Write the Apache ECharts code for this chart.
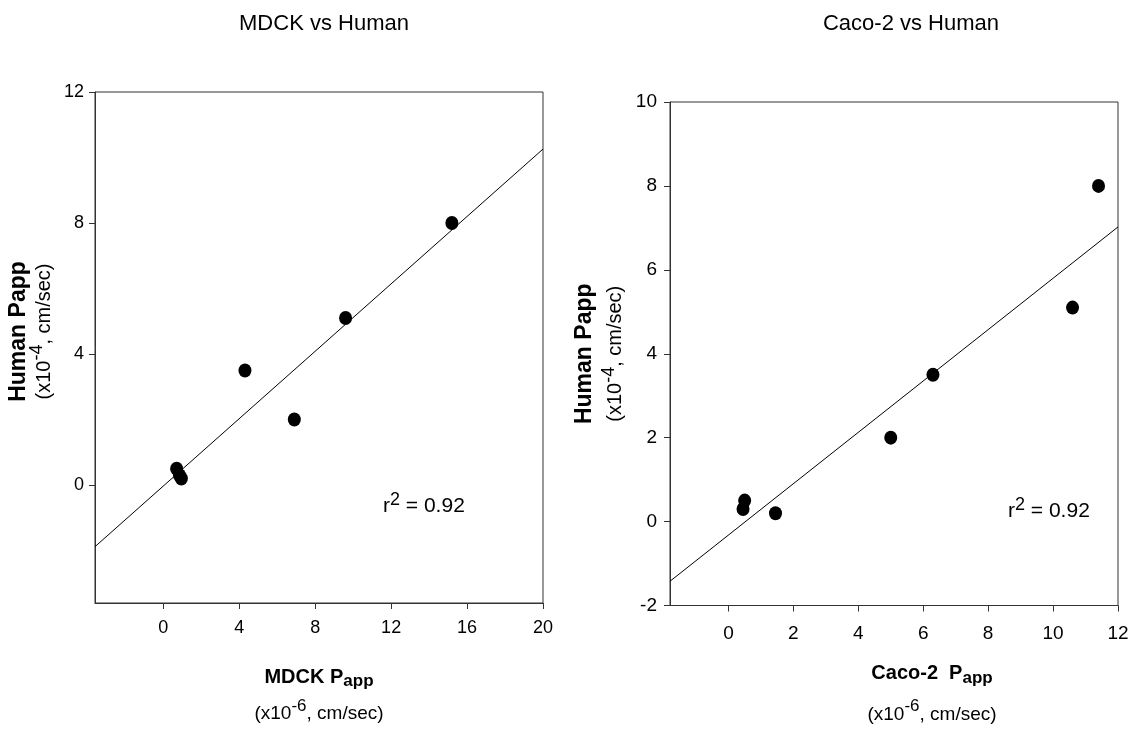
<!DOCTYPE html>
<html><head><meta charset="utf-8">
<script src="https://cdn.jsdelivr.net/npm/echarts@6/dist/echarts.min.js"></script>
<style>html,body{margin:0;padding:0;background:#fff}#c{width:1136px;height:736px}</style>
</head><body><div id="c"></div>
<script>
// ---- data ----
const mdckX = [0.7, 0.85, 0.95, 4.3, 6.9, 9.6, 15.2];
const mdckY = [0.5, 0.3, 0.2, 3.5, 2.0, 5.1, 8.0];
const cacoX = [0.5, 0.45, 1.45, 5.0, 6.3, 10.6, 11.4];
const cacoY = [0.5, 0.3, 0.2, 2.0, 3.5, 5.1, 8.0];
const mdckXTicks = [0, 4, 8, 12, 16, 20];
const mdckYTicks = [0, 4, 8, 12];
const cacoXTicks = [0, 2, 4, 6, 8, 10, 12];
const cacoYTicks = [-2, 0, 2, 4, 6, 8, 10];
const titles = ['MDCK vs Human', 'Caco-2 vs Human'];
const rSquared = ['0.92', '0.92'];

const FONT = "'Liberation Sans', Arial, sans-serif";
const AX = '#333';

function fit(xs, ys, lo, hi) {
  const n = xs.length;
  const mx = xs.reduce((a, b) => a + b, 0) / n;
  const my = ys.reduce((a, b) => a + b, 0) / n;
  let sxy = 0, sxx = 0;
  for (let i = 0; i < n; i++) { sxy += (xs[i] - mx) * (ys[i] - my); sxx += (xs[i] - mx) ** 2; }
  const b = sxy / sxx, a = my - b * mx;
  return [[lo, a + b * lo], [hi, a + b * hi]];
}
const pairs = (xs, ys) => xs.map((x, i) => [x, ys[i]]);

const mdckRange = { x: [-3.6, 20], y: [-3.6, 12] };
const cacoRange = { x: [-1.8, 12], y: [-2, 10] };

function richX(l1, l2) {
  return {
    b: { fontFamily: FONT, fontSize: 20, fontWeight: 'bold', color: '#000', lineHeight: l1 },
    sub: { fontFamily: FONT, fontSize: 17, fontWeight: 'bold', color: '#000', lineHeight: 17, padding: [9, 0, 0, 0] },
    n: { fontFamily: FONT, fontSize: 19, color: '#000', lineHeight: l2 },
    sup: { fontFamily: FONT, fontSize: 17, color: '#000', lineHeight: 17, padding: [0, 0, 16, 0] }
  };
}
function richY(l1, l2) {
  return {
    b: { fontFamily: FONT, fontSize: 23, fontWeight: 'bold', color: '#000', lineHeight: l1 },
    n: { fontFamily: FONT, fontSize: 20, color: '#000', lineHeight: l2 },
    sup: { fontFamily: FONT, fontSize: 18, color: '#000', lineHeight: 12, padding: [0, 0, 14, 0] }
  };
}

function xAxis(gi, range, ticks, name, fs, margin, gap, rich, padL) {
  return {
    type: 'value', gridIndex: gi, min: range[0], max: range[1],
    splitLine: { show: false },
    axisLine: { show: true, onZero: false, lineStyle: { color: AX, width: 1 } },
    axisTick: { show: true, inside: false, length: 6, customValues: ticks, lineStyle: { color: AX, width: 1 } },
    axisLabel: { customValues: ticks, color: '#000', fontFamily: FONT, fontSize: fs, margin: margin },
    name: name, nameLocation: 'middle', nameGap: gap,
    nameTextStyle: { rich: rich, padding: [0, 0, 0, padL] }
  };
}
function yAxis(gi, range, ticks, name, fs, margin, gap, rich, padL) {
  return {
    type: 'value', gridIndex: gi, min: range[0], max: range[1],
    splitLine: { show: false },
    axisLine: { show: true, onZero: false, lineStyle: { color: AX, width: 1 } },
    axisTick: { show: true, inside: false, length: 6, customValues: ticks, lineStyle: { color: AX, width: 1 } },
    axisLabel: { customValues: ticks, color: '#000', fontFamily: FONT, fontSize: fs, margin: margin },
    name: name, nameLocation: 'middle', nameGap: gap, nameRotate: 90,
    nameTextStyle: { rich: rich, padding: [0, 0, 0, padL] }
  };
}

const chart = echarts.init(document.getElementById('c'), null, { renderer: 'canvas' });

const rRich = {
  r: { fontFamily: FONT, fontSize: 21, color: '#000', lineHeight: 24 },
  s: { fontFamily: FONT, fontSize: 18, color: '#000', lineHeight: 12, padding: [0, 0, 12, 0] }
};

chart.setOption({
  backgroundColor: '#fff',
  animation: false,
  title: [
    { text: titles[0], left: 319, top: 8, textAlign: 'center',
      textStyle: { fontFamily: FONT, fontSize: 22, fontWeight: 'normal', color: '#000' } },
    { text: titles[1], left: 906, top: 8, textAlign: 'center',
      textStyle: { fontFamily: FONT, fontSize: 22, fontWeight: 'normal', color: '#000' } }
  ],
  grid: [
    { left: 95, top: 92, width: 448, height: 511, show: true, borderColor: AX, borderWidth: 1, backgroundColor: 'transparent' },
    { left: 670, top: 102, width: 448, height: 505, show: true, borderColor: AX, borderWidth: 1, backgroundColor: 'transparent' }
  ],
  xAxis: [
    xAxis(0, mdckRange.x, mdckXTicks, '{b|MDCK P}{sub|app}\n{n|(x10}{sup|-6}{n|, cm/sec)}', 18, 16, 57, richX(34, 40), 0),
    xAxis(1, cacoRange.x, cacoXTicks, '{b|Caco-2  P}{sub|app}\n{n|(x10}{sup|-6}{n|, cm/sec)}', 19, 19, 49, richX(38, 44), 76)
  ],
  yAxis: [
    yAxis(0, mdckRange.y, mdckYTicks, '{b|Human Papp}\n{n|(x10}{sup|-4}{n|, cm/sec)}', 18, 11, 27, richY(26, 24), 32),
    yAxis(1, cacoRange.y, cacoYTicks, '{b|Human Papp}\n{n|(x10}{sup|-4}{n|, cm/sec)}', 19, 13, 40, richY(38, 24), 0)
  ],
  graphic: [
    { type: 'text', x: 383, y: 506, style: { text: '{r|r}{s|2}{r| = ' + rSquared[0] + '}', rich: rRich, verticalAlign: 'middle', align: 'left' } },
    { type: 'text', x: 1008, y: 511, style: { text: '{r|r}{s|2}{r| = ' + rSquared[1] + '}', rich: rRich, verticalAlign: 'middle', align: 'left' } }
  ],
  series: [
    { type: 'line', xAxisIndex: 0, yAxisIndex: 0, data: fit(mdckX, mdckY, mdckRange.x[0], mdckRange.x[1]),
      showSymbol: false, lineStyle: { color: '#000', width: 1 }, silent: true, z: 2 },
    { type: 'scatter', xAxisIndex: 0, yAxisIndex: 0, data: pairs(mdckX, mdckY),
      symbol: 'circle', symbolSize: [13, 14], itemStyle: { color: '#000', opacity: 1 }, z: 3 },
    { type: 'line', xAxisIndex: 1, yAxisIndex: 1, data: fit(cacoX, cacoY, cacoRange.x[0], cacoRange.x[1]),
      showSymbol: false, lineStyle: { color: '#000', width: 1 }, silent: true, z: 2 },
    { type: 'scatter', xAxisIndex: 1, yAxisIndex: 1, data: pairs(cacoX, cacoY),
      symbol: 'circle', symbolSize: [13, 14], itemStyle: { color: '#000', opacity: 1 }, z: 3 }
  ]
});
</script>
</body></html>
